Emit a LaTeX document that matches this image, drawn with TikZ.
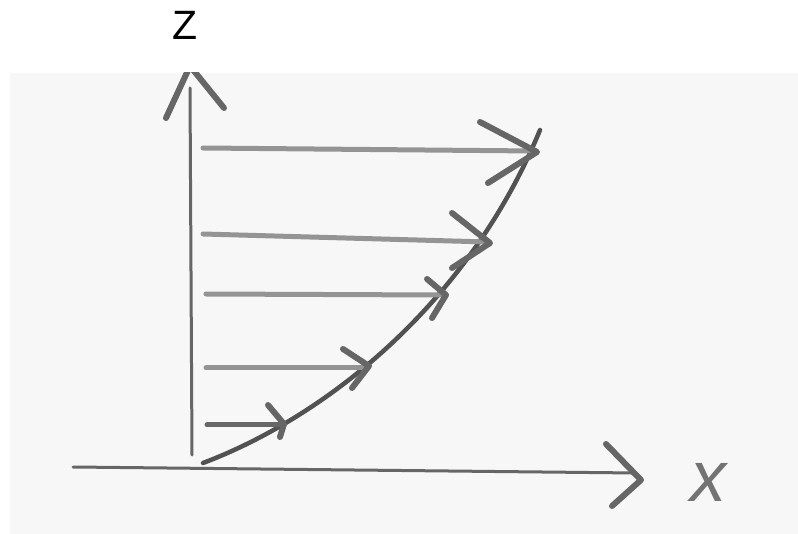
\documentclass[tikz,border=0pt]{standalone}
\usepackage{fontspec}
\setmainfont{Liberation Sans}
\begin{document}
\begin{tikzpicture}[x=1pt,y=-1pt,
  axis/.style={draw=black!60, line width=3pt, line cap=round},
  vec/.style={draw=black!42, line width=5pt, line cap=round},
  head/.style={draw=black!60, line width=6pt, line cap=round, line join=round},
  prof/.style={draw=black!68, line width=4.5pt, line cap=round}]
\useasboundingbox (0,0) rectangle (798,534);
\fill[white] (0,0) rectangle (798,534);
\fill[black!3] (10,73) rectangle (798,534);
\node[font=\fontsize{41}{41}\selectfont] (zlab) at (185,25) {Z};
% z axis
\coordinate (z0) at (192,455);
\coordinate (z1) at (190,88);
\draw[axis] (z0) -- (z1);
\begin{scope}
\clip (10,73) rectangle (798,534);
\coordinate (za) at (190,66);
\coordinate (zl) at (166,118);
\coordinate (zr) at (224,108);
\draw[head] (zl) -- (za) -- (zr);
\end{scope}
% x axis
\coordinate (x0) at (73,467);
\coordinate (x1) at (636,473);
\draw[axis] (x0) -- (x1);
\coordinate (xa) at (641,480);
\coordinate (xu) at (606,444);
\coordinate (xd) at (612,506);
\draw[head] (xu) -- (xa) -- (xd);
\node[text=black!55, font=\fontsize{72}{72}\selectfont\itshape] (xlab) at (708,482) {x};
% profile curve
\coordinate (c0) at (203,463);
\coordinate (c1) at (540,130);
\draw[prof] (c0) .. controls (330,415) and (470,300) .. (c1);
% velocity vectors
\coordinate (a1) at (203,148); \coordinate (b1) at (535,151);
\draw[vec] (a1) -- (b1);
\draw[head] (480,122) -- (537,152) -- (488,183);
\coordinate (a2) at (203,234); \coordinate (b2) at (488,242);
\draw[vec] (a2) -- (b2);
\draw[head] (452,213) -- (490,243) -- (452,268);
\coordinate (a3) at (206,294); \coordinate (b3) at (440,295);
\draw[vec] (a3) -- (b3);
\draw[head] (427,279) -- (446,295) -- (432,318);
\coordinate (a4) at (206,368); \coordinate (b4) at (365,368);
\draw[vec] (a4) -- (b4);
\draw[head] (343,349) -- (369,366) -- (352,388);
\coordinate (a5) at (207,425); \coordinate (b5) at (282,425);
\draw[vec, draw=black!60] (a5) -- (b5);
\draw[head] (268,405) -- (284,424) -- (280,437);
\end{tikzpicture}
\end{document}
